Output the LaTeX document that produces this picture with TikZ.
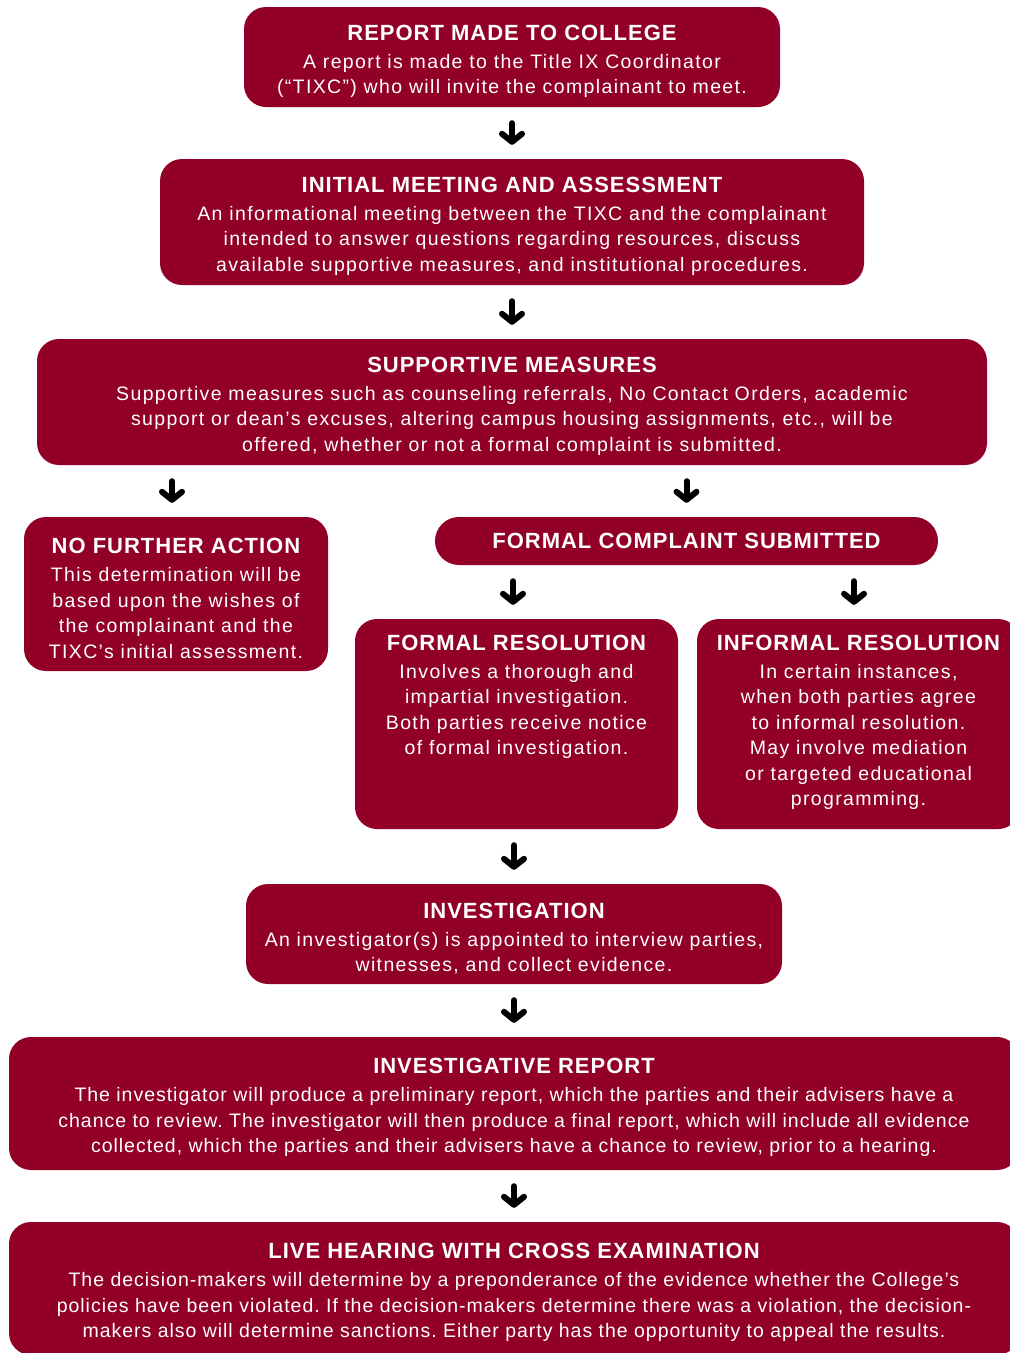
\documentclass[tikz,border=0pt]{standalone}
\usepackage{fontspec}
\setmainfont{Liberation Sans}
\newfontfamily\bodyff[LetterSpace=7]{Liberation Sans}
\newfontfamily\bodyffb[LetterSpace=5]{Liberation Sans}
\newfontfamily\titleff[LetterSpace=4.5]{Liberation Sans}
\usetikzlibrary{arrows.meta}
\definecolor{crim}{RGB}{146,0,40}
\frenchspacing
\newcommand{\bxtitle}[1]{{\titleff\fontsize{22}{25.5}\selectfont\bfseries\rule{0pt}{24pt}#1}\\[2.5pt]}
\tikzset{
  box/.style={fill=crim, text=white, rounded corners=22pt, align=center, inner sep=0pt,
    font=\bodyff\fontsize{19.5}{25.5}\selectfont\frenchspacing},
  boxwide/.style={box, font=\bodyffb\fontsize{19.5}{25.5}\selectfont\frenchspacing},
  arr/.style={line width=6pt, line cap=round, line join=round,
    -{Straight Barb[length=8pt,width=20pt,line join=round,line cap=round]},
    shorten <=16pt, shorten >=14pt}
}
\begin{document}
\begin{tikzpicture}[x=1pt,y=-1pt]
\useasboundingbox (0,0) rectangle (1010,1353);
\clip (0,0) rectangle (1010,1353);
\node[box, minimum width=536pt, minimum height=100pt] (report) at (512,57)
  {\bxtitle{REPORT MADE TO COLLEGE}A report is made to the Title IX Coordinator\\(“TIXC”) who will invite the complainant to meet.};
\node[box, minimum width=704pt, minimum height=126pt] (meet) at (512,222)
  {\bxtitle{INITIAL MEETING AND ASSESSMENT}An informational meeting between the TIXC and the complainant\\intended to answer questions regarding resources, discuss\\available supportive measures, and institutional procedures.};
\node[box, minimum width=950pt, minimum height=126pt] (support) at (512,402)
  {\bxtitle{SUPPORTIVE MEASURES}Supportive measures such as counseling referrals, No Contact Orders, academic\\support or dean’s excuses, altering campus housing assignments, etc., will be\\offered, whether or not a formal complaint is submitted.};
\node[box, minimum width=304pt, minimum height=154pt] (nfa) at (176,594)
  {\bxtitle{NO FURTHER ACTION}This determination will be\\based upon the wishes of\\the complainant and the\\TIXC’s initial assessment.};
\node[box, rounded corners=24pt, minimum width=503pt, minimum height=48pt] (fcs) at (686.5,541)
  {{\titleff\fontsize{22}{25.5}\selectfont\bfseries FORMAL COMPLAINT SUBMITTED}};
\node[box, minimum width=323pt, minimum height=210pt] (fr) at (516.5,724)
  {\parbox[c][210pt][t]{323pt}{\centering\vspace*{7pt}\bxtitle{FORMAL RESOLUTION}Involves a thorough and\\impartial investigation.\\Both parties receive notice\\of formal investigation.}};
\node[box, minimum width=323pt, minimum height=210pt] (ir) at (858.5,724)
  {\parbox[c][210pt][t]{323pt}{\centering\vspace*{7pt}\bxtitle{INFORMAL RESOLUTION}In certain instances,\\when both parties agree\\to informal resolution.\\May involve mediation\\or targeted educational\\programming.}};
\node[box, minimum width=536pt, minimum height=100pt] (inv) at (514,934)
  {\bxtitle{INVESTIGATION}An investigator(s) is appointed to interview parties,\\witnesses, and collect evidence.};
\node[boxwide, minimum width=1010pt, minimum height=133pt] (irep) at (514,1103.5)
  {\bxtitle{INVESTIGATIVE REPORT}The investigator will produce a preliminary report, which the parties and their advisers have a\\chance to review. The investigator will then produce a final report, which will include all evidence\\collected, which the parties and their advisers have a chance to review, prior to a hearing.};
\node[boxwide, minimum width=1010pt, minimum height=133pt] (live) at (514,1288.5)
  {\bxtitle{LIVE HEARING WITH CROSS EXAMINATION}The decision-makers will determine by a preponderance of the evidence whether the College’s\\policies have been violated. If the decision-makers determine there was a violation, the decision-\\makers also will determine sanctions. Either party has the opportunity to appeal the results.};
\draw[arr] (report.south) -- (meet.north);
\draw[arr] (meet.south) -- (support.north);
\draw[arr] ([xshift=-4pt]support.south -| nfa.north) -- ([xshift=-4pt]nfa.north);
\draw[arr] (support.south -| fcs.north) -- (fcs.north);
\draw[arr] ([xshift=-3.5pt]fcs.south -| fr.north) -- ([xshift=-3.5pt]fr.north);
\draw[arr] ([xshift=-4.5pt]fcs.south -| ir.north) -- ([xshift=-4.5pt]ir.north);
\draw[arr] (fr.south -| inv.north) -- (inv.north);
\draw[arr] (inv.south) -- (irep.north);
\draw[arr] (irep.south) -- (live.north);
\end{tikzpicture}
\end{document}
